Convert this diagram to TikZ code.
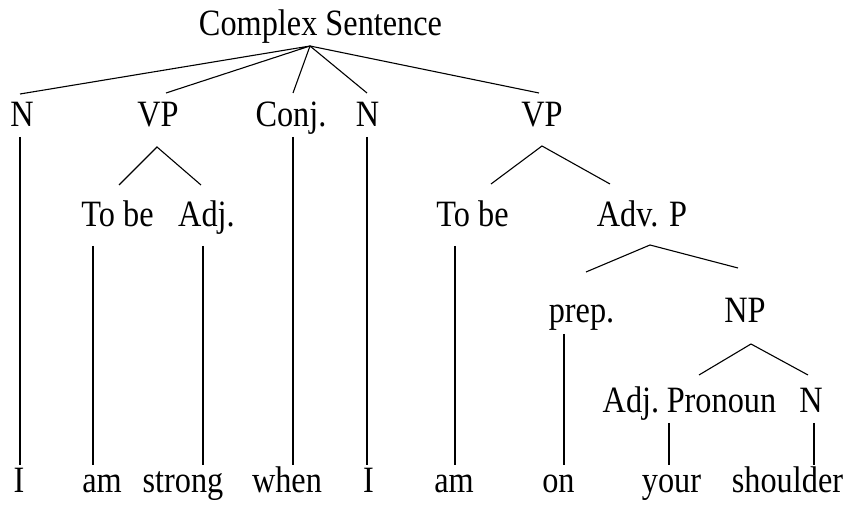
\documentclass[tikz,border=0pt]{standalone}
\usepackage{fontspec}
\setmainfont{Liberation Serif}
\newcommand{\tallword}[1]{\scalebox{1}[1.15]{#1}}
\tikzset{
	lbl/.style={anchor=base, inner sep=0pt},
	branch/.style={line width=0.55pt}
}
\begin{document}
\begin{tikzpicture}[x=0.5pt, y=-0.5pt, font=\fontsize{16.15pt}{19pt}\selectfont]
		\useasboundingbox (0,0) rectangle (843,507);
		% labels
		\node[lbl] (cs) at (320.5, 36) {\tallword{Complex Sentence}};
		\node[lbl] (n1) at (22, 127) {\tallword{N}};
		\node[lbl] (vp1) at (158, 127) {\tallword{VP}};
		\node[lbl] (conj) at (291, 127) {\tallword{Conj.}};
		\node[lbl] (n2) at (367.5, 127) {\tallword{N}};
		\node[lbl] (vp2) at (542, 127) {\tallword{VP}};
		\node[lbl] (tobe1) at (117.5, 227) {\tallword{To be}};
		\node[lbl] (adj1) at (206.5, 227) {\tallword{Adj.}};
		\node[lbl] (tobe2) at (472.5, 227) {\tallword{To be}};
		\node[lbl] (advp) at (642, 227) {\tallword{Adv. P}};
		\node[lbl] (prep) at (581.5, 323) {\tallword{prep.}};
		\node[lbl] (np) at (745, 323) {\tallword{NP}};
		\node[lbl] (adj2) at (631, 413) {\tallword{Adj.}};
		\node[lbl] (pron) at (721.5, 413) {\tallword{Pronoun}};
		\node[lbl] (n3) at (811, 413) {\tallword{N}};
		% words
		\node[lbl] (w1) at (19, 493) {\tallword{I}};
		\node[lbl] (w2) at (102, 493) {\tallword{am}};
		\node[lbl] (w3) at (183, 493) {\tallword{strong}};
		\node[lbl] (w4) at (287, 493) {\tallword{when}};
		\node[lbl] (w5) at (368.5, 493) {\tallword{I}};
		\node[lbl] (w6) at (454, 493) {\tallword{am}};
		\node[lbl] (w7) at (558.5, 493) {\tallword{on}};
		\node[lbl] (w8) at (671.5, 493) {\tallword{your}};
		\node[lbl] (w9) at (787.5, 493) {\tallword{shoulder}};
		% branch points
		\coordinate (csTop) at (310, 46);
		\coordinate (n1Top) at (20, 94);
		\coordinate (vp1Top) at (166, 93);
		\coordinate (conjTop) at (293, 93);
		\coordinate (n2Top) at (367, 93);
		\coordinate (vp2Top) at (539, 93);
		\coordinate (n1Bot) at (20, 137);
		\coordinate (conjBot) at (293, 137);
		\coordinate (n2Bot) at (367, 137);
		\coordinate (vp1Bot) at (157, 147);
		\coordinate (tobe1Top) at (119, 185);
		\coordinate (adj1Top) at (201, 185);
		\coordinate (vp2Bot) at (542, 146);
		\coordinate (tobe2Top) at (491, 184);
		\coordinate (advpTop) at (610, 184);
		\coordinate (tobe1Bot) at (93, 246);
		\coordinate (adj1Bot) at (203, 246);
		\coordinate (tobe2Bot) at (455, 246);
		\coordinate (advpBot) at (650, 245);
		\coordinate (prepTop) at (586, 272);
		\coordinate (npTop) at (738, 268);
		\coordinate (prepBot) at (564, 334);
		\coordinate (npBot) at (751, 344);
		\coordinate (adj2Top) at (699, 375);
		\coordinate (n3Top) at (808, 375);
		\coordinate (pronBot) at (669, 423);
		\coordinate (n3Bot) at (814, 423);
		\coordinate (w1Top) at (20, 465);
		\coordinate (w2Top) at (93, 465);
		\coordinate (w3Top) at (203, 465);
		\coordinate (w4Top) at (293, 465);
		\coordinate (w5Top) at (367, 465);
		\coordinate (w6Top) at (455, 465);
		\coordinate (w7Top) at (564, 465);
		\coordinate (w8Top) at (669, 465);
		\coordinate (w9Top) at (814, 465);
		% branches
		\draw[branch] (n1Top) -- (csTop) -- (vp1Top);
		\draw[branch] (conjTop) -- (csTop) -- (n2Top);
		\draw[branch] (csTop) -- (vp2Top);
		\draw[branch] (tobe1Top) -- (vp1Bot) -- (adj1Top);
		\draw[branch] (tobe2Top) -- (vp2Bot) -- (advpTop);
		\draw[branch] (prepTop) -- (advpBot) -- (npTop);
		\draw[branch] (adj2Top) -- (npBot) -- (n3Top);
		\draw[branch] (n1Bot) -- (w1Top);
		\draw[branch] (tobe1Bot) -- (w2Top);
		\draw[branch] (adj1Bot) -- (w3Top);
		\draw[branch] (conjBot) -- (w4Top);
		\draw[branch] (n2Bot) -- (w5Top);
		\draw[branch] (tobe2Bot) -- (w6Top);
		\draw[branch] (prepBot) -- (w7Top);
		\draw[branch] (pronBot) -- (w8Top);
		\draw[branch] (n3Bot) -- (w9Top);
	\end{tikzpicture}
\end{document}
